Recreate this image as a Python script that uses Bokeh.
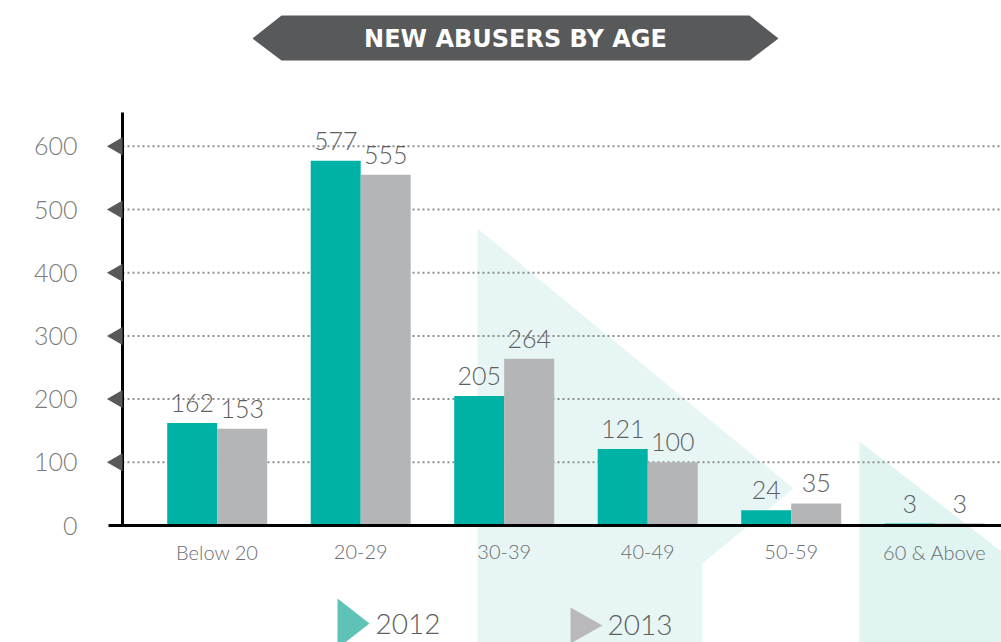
import numpy as np
from bokeh.plotting import figure
from bokeh.models import Range1d
from bokeh.core.properties import value
from bokeh.embed import file_html
from bokeh.resources import INLINE

# ---------------- data ----------------
categories = ["Below 20", "20-29", "30-39", "40-49", "50-59", "60 & Above"]
values_2012 = [162, 577, 205, 121, 24, 3]
values_2013 = [153, 555, 264, 100, 35, 3]
series_names = ["2012", "2013"]
y_ticks = [0, 100, 200, 300, 400, 500, 600]
y_tick_labels = ["0", "100", "200", "300", "400", "500", "600"]
title_text = "NEW ABUSERS BY AGE"

# ---------------- layout / style ----------------
W, H = 1001, 642
GROUP_PX = 143.5              # px between category centres
GROUP0_PX = 216.7             # px position of first category centre
BAR_PX = 50.0                 # px width of one bar
Y_PX = 0.632                  # px per unit value
BASE_PX = 525                 # px position of value 0

TEAL = "#00b2a5"
GREY = "#b4b5b7"
DARK = "#58595b"
LIGHT_FONT = value("Lato Light")

x_range = Range1d(-GROUP0_PX / GROUP_PX, (W - GROUP0_PX) / GROUP_PX)
y_range = Range1d(-(H - BASE_PX) / Y_PX, BASE_PX / Y_PX)

p = figure(width=W, height=H, x_range=x_range, y_range=y_range,
           x_axis_location=None, y_axis_location=None,
           toolbar_location=None, output_backend="svg", min_border=0)
p.grid.visible = False
p.outline_line_color = None
p.background_fill_color = "white"
p.border_fill_color = "white"
p.extra_x_ranges = {"px": Range1d(0, W)}
p.extra_y_ranges = {"px": Range1d(H, 0)}
PX = dict(x_range_name="px", y_range_name="px")

# ---------------- background decoration ----------------
p.patch([477, 793, 702, 702, 477], [228, 488, 563, 660, 660], **PX,
        fill_color="#e7f6f5", line_color=None)
p.patch([859, 1010, 1010, 859], [441, 558, 660, 660], **PX,
        fill_color="#e0f4f2", line_color=None)

# ---------------- title banner ----------------
p.patch([252, 281, 749, 778, 749, 281], [38, 15, 15, 38, 60, 60], **PX,
        fill_color=DARK, line_color=None)
p.text(x=[515], y=[38], text=[title_text], **PX,
       text_font=value("DejaVu Sans"), text_font_style="bold",
       text_font_size="24px", text_color="white",
       text_align="center", text_baseline="middle")

# ---------------- grid lines ----------------
grid_vals = y_ticks[1:]
p.segment(x0=[122] * len(grid_vals), x1=[W] * len(grid_vals),
          y0=grid_vals, y1=grid_vals, x_range_name="px",
          line_color="#8e8e8e", line_width=2, line_dash="2 3")

# ---------------- bars ----------------
xs = np.arange(len(categories))
off = (BAR_PX / 2) / GROUP_PX
bw = BAR_PX / GROUP_PX
p.vbar(x=xs - off, top=values_2012, bottom=0, width=bw,
       fill_color=TEAL, line_color=None)
p.vbar(x=xs + off, top=values_2013, bottom=0, width=bw,
       fill_color=GREY, line_color=None)

# ---------------- axes ----------------
p.line([122, 122], [112, 525], **PX, line_color="black", line_width=3)
p.line([108, 1001], [0, 0], x_range_name="px", line_color="black", line_width=3)

# tick markers (left-pointing triangles)
p.scatter(x=[122 - 5.2] * len(grid_vals), y=grid_vals, x_range_name="px",
          marker="triangle", size=18, angle=np.pi / 2,
          fill_color=DARK, line_color=None)

# tick labels
p.text(x=[77] * len(y_ticks), y=y_ticks, text=y_tick_labels,
       x_range_name="px", text_font=LIGHT_FONT, text_font_size="25px",
       text_color="#7b7b7b", text_align="right", text_baseline="alphabetic",
       y_offset=0)

# category labels
p.text(x=xs, y=[0] * len(xs), text=categories, text_font=LIGHT_FONT,
       text_font_size="20px", text_color="#6d6e71", text_align="center",
       text_baseline="alphabetic", y_offset=26)

# value labels
p.text(x=xs - off, y=values_2012, text=[str(v) for v in values_2012],
       text_font=LIGHT_FONT, text_font_size="25px", text_color="#5e5e5e",
       text_align="center", text_baseline="alphabetic", y_offset=-20)
p.text(x=xs + off, y=values_2013, text=[str(v) for v in values_2013],
       text_font=LIGHT_FONT, text_font_size="25px", text_color="#5e5e5e",
       text_align="center", text_baseline="alphabetic", y_offset=-20)

# ---------------- legend ----------------
p.patch([337, 369, 337], [598, 623, 648], **PX,
        fill_color="#5ec3b6", line_color=None)
p.patch([570, 602, 570], [607, 625, 643], **PX,
        fill_color="#b9b9bb", line_color=None)
p.text(x=[375, 607], y=[623, 624], text=series_names, **PX,
       text_font=LIGHT_FONT, text_font_size="28px", text_color="#5e5e5e",
       text_align="left", text_baseline="alphabetic")

open("out.html", "w").write(file_html(p, INLINE))
